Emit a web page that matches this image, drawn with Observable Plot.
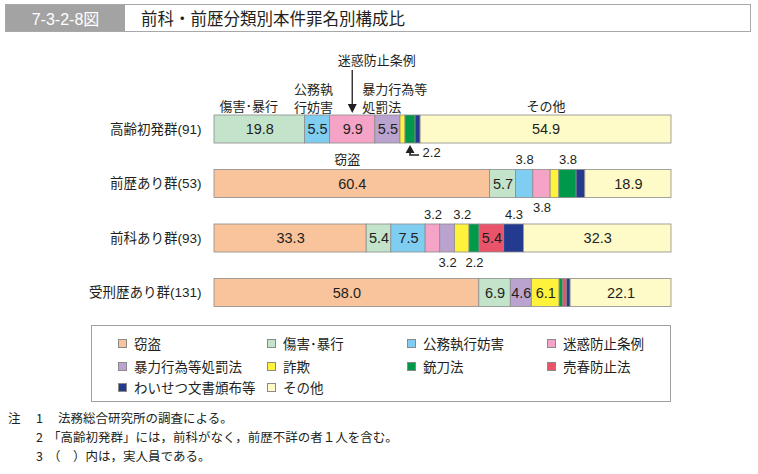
<!DOCTYPE html>
<html><head><meta charset="utf-8">
<script src="https://cdn.jsdelivr.net/npm/d3@7"></script>
<script src="https://cdn.jsdelivr.net/npm/@observablehq/plot@0.6"></script>
<style>
body{margin:0;background:#fff;font-family:"Liberation Sans","Noto Sans CJK JP",sans-serif;color:#231f20;}
#page{position:relative;width:758px;height:474px;overflow:hidden;background:#fff;}
#header{position:absolute;left:5px;top:4px;width:746px;height:28px;border:1px solid #a8a8a8;box-sizing:border-box;}
#fig{position:absolute;left:0;top:0;width:119px;height:100%;background:#a3a3a3;color:#fff;font-family:"Liberation Sans Narrow","Liberation Sans","Noto Sans CJK JP",sans-serif;font-size:16px;display:flex;align-items:center;justify-content:center;}
#title{position:absolute;left:135px;top:0;height:100%;display:flex;align-items:center;font-family:"Noto Sans CJK JP",sans-serif;font-size:16.5px;color:#231f20;}
#chart{position:absolute;left:0;top:40px;}
#legend{position:absolute;left:91px;top:325px;width:580px;height:77px;border:1px solid #a0a0a0;box-sizing:border-box;}
#legend .item{position:absolute;transform:translateY(-50%);display:flex;align-items:center;font-family:"Noto Sans CJK JP",sans-serif;font-size:13.5px;white-space:nowrap;color:#231f20;}
#legend .sw{display:inline-block;width:9px;height:9px;border:1px solid #8a8a8a;box-sizing:border-box;margin-right:7px;}
#notes{position:absolute;left:8px;top:408px;font-family:"Noto Sans CJK JP",sans-serif;font-size:12.5px;color:#231f20;line-height:19px;}
#notes .row{position:relative;height:19px;white-space:nowrap;}
#notes span{position:absolute;top:0;}
</style></head><body>
<div id="page">
  <div id="header"><div id="fig">7-3-2-8図</div><div id="title">前科・前歴分類別本件罪名別構成比</div></div>
  <div id="chart"></div>
  <div id="legend"></div>
  <div id="notes"></div>
</div>
<script>
// ---- data ----
const groups = ["高齢初発群(91)", "前歴あり群(53)", "前科あり群(93)", "受刑歴あり群(131)"];
const categories = ["窃盗", "傷害･暴行", "公務執行妨害", "迷惑防止条例", "暴力行為等処罰法", "詐欺", "銃刀法", "売春防止法", "わいせつ文書頒布等", "その他"];
const colors = ["#f9c39b", "#c3e3cb", "#80cdf2", "#f5a3c7", "#bba3d0", "#fff23a", "#00994a", "#e9546b", "#233a8f", "#fffbc9"];
const sharesElderlyFirst = [0, 19.8, 5.5, 9.9, 5.5, 1.1, 2.2, 0, 1.1, 54.9];
const sharesPriorRecord = [60.4, 5.7, 3.8, 3.8, 0, 1.9, 3.8, 0, 1.9, 18.9];
const sharesPriorConviction = [33.3, 5.4, 7.5, 3.2, 3.2, 3.2, 2.2, 5.4, 4.3, 32.3];
const sharesPrison = [58.0, 6.9, 0, 0, 4.6, 6.1, 0.8, 0.8, 0.8, 22.1];
// outside value labels (group, category)
const valuesAbove = [[groups[1], "公務執行妨害"], [groups[1], "銃刀法"], [groups[2], "迷惑防止条例"], [groups[2], "詐欺"], [groups[2], "わいせつ文書頒布等"]];
const valuesBelow = [[groups[1], "迷惑防止条例"], [groups[2], "暴力行為等処罰法"], [groups[2], "銃刀法"]];
const notes = [["注", "1", "法務総合研究所の調査による。"], ["", "2", "「高齢初発群」には，前科がなく，前歴不詳の者１人を含む。"], ["", "3", "（　）内は，実人員である。"]];

// ---- derived records ----
const shareTable = [sharesElderlyFirst, sharesPriorRecord, sharesPriorConviction, sharesPrison];
const records = [];
groups.forEach((g, gi) => {
  const vals = shareTable[gi];
  const total = d3.sum(vals);
  let acc = 0;
  vals.forEach((v, ci) => {
    records.push({group: g, category: categories[ci], value: v,
      x1: acc / total * 100, x2: (acc + v) / total * 100, mid: (acc + v / 2) / total * 100});
    acc += v;
  });
});
const segs = records.filter(d => d.value > 0);
const rec = (g, c) => records.find(d => d.group === g && d.category === c);
const aboveRecs = valuesAbove.map(([g, c]) => rec(g, c));
const belowRecs = valuesBelow.map(([g, c]) => rec(g, c));
const fmt = d => d.value.toFixed(1);
const FONT = '"Liberation Sans","Noto Sans CJK JP",sans-serif';
const ink = "#231f20";

function arrowMark(index, scales) {
  const x = scales.x, y = scales.y;
  const bw = typeof y.bandwidth === "function" ? y.bandwidth() : (y.bandwidth ?? scales.scales?.y?.bandwidth ?? 28);
  const g = d3.create("svg:g").attr("fill", ink).attr("stroke", ink);
  // 迷惑防止条例 arrow (down into bar)
  const r1 = rec(groups[0], "迷惑防止条例");
  const cx = x(r1.mid), top = y(groups[0]);
  g.append("line").attr("x1", cx).attr("x2", cx).attr("y1", top - 45).attr("y2", top - 9).attr("stroke-width", 1.3);
  g.append("path").attr("d", `M${cx},${top - 2}L${cx - 4.5},${top - 11}L${cx + 4.5},${top - 11}Z`).attr("stroke", "none");
  // 銃刀法 2.2 arrow (up into bar)
  const r2 = rec(groups[0], "銃刀法");
  const gx = x(r2.mid), bot = y(groups[0]) + bw;
  g.append("path").attr("d", `M${gx + 9},${bot + 12}H${gx}V${bot + 9}`).attr("fill", "none").attr("stroke-width", 1.6);
  g.append("path").attr("d", `M${gx},${bot + 2}L${gx - 4.5},${bot + 10}L${gx + 4.5},${bot + 10}Z`).attr("stroke", "none");
  return g.node();
}

const chart = Plot.plot({
  width: 758, height: 280,
  marginLeft: 214, marginRight: 87, marginTop: 75, marginBottom: 13.5,
  x: {domain: [0, 100], axis: null},
  y: {domain: groups, paddingInner: 0.486, paddingOuter: 0, round: false, label: null, tickSize: 0, tickPadding: 13},
  color: {domain: categories, range: colors},
  style: {fontFamily: FONT, fontSize: "13.5px", color: ink, background: "transparent"},
  marks: [
    Plot.barX(segs, {x1: "x1", x2: "x2", y: "group", fill: "category", stroke: "#8c8c8c", strokeWidth: 0.8}),
    Plot.text(segs.filter(d => d.value >= 4.5), {x: "mid", y: "group", text: fmt, fontSize: 14.5, fill: ink}),
    Plot.text(aboveRecs, {x: "mid", y: "group", text: fmt, dy: -24, fontSize: 13, fill: ink}),
    Plot.text(belowRecs, {x: "mid", y: "group", text: fmt, dy: 24, fontSize: 13, fill: ink}),
    // row 1 callouts
    Plot.text([rec(groups[0], "傷害･暴行")], {x: "mid", y: "group", text: d => d.category, dx: -11, dy: -23, fontSize: 13, fill: ink}),
    Plot.text([rec(groups[0], "その他")], {x: "mid", y: "group", text: d => d.category, dy: -23, fontSize: 13, fill: ink}),
    Plot.text([rec(groups[0], "公務執行妨害")], {x: "mid", y: "group", text: () => "公務執\n行妨害", dx: -4, dy: -32, lineHeight: 1.38, fontSize: 13, fill: ink}),
    Plot.text([rec(groups[0], "暴力行為等処罰法")], {x: "x1", y: "group", text: () => "暴力行為等\n処罰法", textAnchor: "start", dx: -13, dy: -32, lineHeight: 1.38, fontSize: 13, fill: ink}),
    Plot.text([rec(groups[0], "迷惑防止条例")], {x: "mid", y: "group", text: d => d.category, textAnchor: "start", dx: -15, dy: -69, fontSize: 13, fill: ink}),
    Plot.text([rec(groups[0], "銃刀法")], {x: "mid", y: "group", text: fmt, textAnchor: "start", dx: 12, dy: 23, fontSize: 13, fill: ink}),
    Plot.text([rec(groups[1], "窃盗")], {x: "mid", y: "group", text: d => d.category, dx: -5, dy: -24, fontSize: 13, fill: ink}),
    arrowMark
  ]
});
document.getElementById("chart").appendChild(chart);

// legend
const legend = document.getElementById("legend");
const colLeft = [26, 175, 315, 455], rowTop = [17, 40, 61];
categories.forEach((c, i) => {
  const item = document.createElement("div");
  item.className = "item";
  item.style.left = colLeft[i % 4] + "px";
  item.style.top = rowTop[Math.floor(i / 4)] + "px";
  const sw = document.createElement("span");
  sw.className = "sw"; sw.style.background = colors[i];
  item.appendChild(sw);
  item.appendChild(document.createTextNode(c));
  legend.appendChild(item);
});

// notes
const notesDiv = document.getElementById("notes");
notes.forEach(([a, n, t], i) => {
  const row = document.createElement("div");
  row.className = "row";
  row.innerHTML = `<span style="left:0">${a}</span><span style="left:28px">${n}</span><span style="left:${i === 0 ? 50 : 40}px">${t}</span>`;
  notesDiv.appendChild(row);
});
</script>
</body></html>
